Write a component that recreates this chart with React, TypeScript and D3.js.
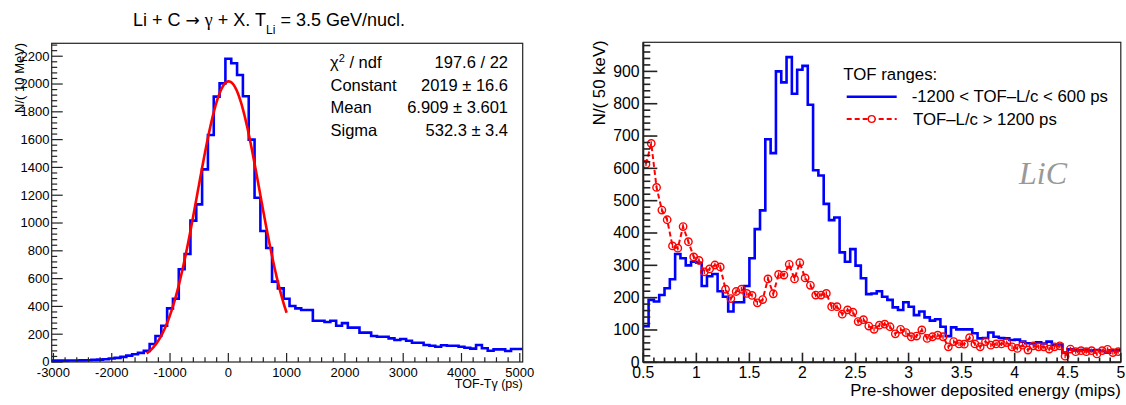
import React from "react";
import * as d3 from "d3";

const W = 1126;
const H = 405;
const SANS = "'Liberation Sans', Arial, Helvetica, sans-serif";
const SERIF = "'Liberation Serif', 'Times New Roman', serif";

// ---------------- Left panel data (TOF - Tgamma, 100 ps bins) ----------------
const tofFirstBinCenter = -3000;
const tofBinWidth = 100;
const tofCounts = [
  10, 10, 10, 11, 11, 12, 13, 15, 17, 20,
  25, 30, 37, 46, 56, 66, 80, 129, 187, 261,
  386, 455, 667, 777, 1017, 1134, 1386, 1633, 1909, 2005,
  2182, 2149, 2065, 1912, 1600, 1182, 942, 820, 578, 530,
  455, 403, 386, 374, 374, 297, 297, 288, 297, 261,
  280, 247, 247, 211, 211, 187, 182, 182, 170, 158,
  165, 153, 139, 139, 122, 117, 110, 120, 117, 117,
  110, 103, 96, 122, 99, 81, 91, 91, 79, 93,
  93,
];
const fitConstant = 2019;
const fitMean = 6.909;
const fitSigma = 532.3;
const fitFrom = -1400;
const fitTo = 1000;
const leftXTicks = [-3000, -2000, -1000, 0, 1000, 2000, 3000, 4000, 5000];
const leftYTicks = [0, 200, 400, 600, 800, 1000, 1200, 1400, 1600, 1800, 2000, 2200];
const statsNames = ["Constant", "Mean", "Sigma"];
const statsValues = ["197.6 / 22", "2019 ± 16.6", "6.909 ± 3.601", "532.3 ± 3.4"];

// ---------------- Right panel data (pre-shower energy, 0.05 mips bins) ----------------
const energyFirstEdge = 0.5;
const energyBinWidth = 0.05;
const blueCounts = [
  112, 193, 188, 208, 229, 257, 335, 322, 300, 311,
  308, 236, 266, 273, 220, 203, 157, 186, 186, 236,
  322, 412, 470, 690, 647, 900, 866, 944, 831, 905,
  917, 797, 594, 578, 490, 440, 448, 340, 311, 350,
  299, 260, 211, 213, 220, 203, 193, 170, 162, 186,
  172, 146, 157, 139, 129, 133, 110, 81, 108, 102,
  102, 102, 90, 74, 75, 92, 79, 75, 74, 69,
  70, 64, 59, 58, 62, 58, 64, 53, 55, 30,
  40, 37, 38, 39, 36, 38, 35, 30, 37, 37,
];
const redCounts = [
  613, 677, 541, 471, 441, 360, 353, 420, 373, 326,
  315, 280, 289, 301, 295, 226, 197, 219, 226, 213,
  207, 184, 194, 258, 212, 272, 270, 303, 258, 308,
  261, 238, 208, 208, 213, 172, 172, 149, 162, 155,
  126, 132, 112, 102, 115, 118, 110, 88, 102, 92,
  79, 81, 100, 74, 79, 84, 79, 48, 64, 57,
  56, 76, 57, 48, 64, 53, 57, 57, 61, 48,
  43, 53, 38, 51, 48, 48, 41, 48, 51, 19,
  41, 33, 36, 33, 36, 26, 36, 40, 30, 33,
];
const rightXTicks = [0.5, 1, 1.5, 2, 2.5, 3, 3.5, 4, 4.5, 5];
const rightXTickLabels = ["0.5", "1", "1.5", "2", "2.5", "3", "3.5", "4", "4.5", "5"];
const rightYTicks = [0, 100, 200, 300, 400, 500, 600, 700, 800, 900];
const legendTitle = "TOF ranges:";
const legendBlue = "-1200 < TOF\u2013L/c < 600 ps";
const legendRed = "TOF\u2013L/c > 1200 ps";

// ---------------- Scales ----------------
const xL = d3.scaleLinear().domain([-3030, 5050]).range([51.7, 522.7]);
const yL = d3.scaleLinear().domain([0, 2293]).range([362, 43.3]);
const xR = d3.scaleLinear().domain([0.5, 5]).range([643.3, 1120.8]);
const yR = d3.scaleLinear().domain([0, 990]).range([362.3, 42.3]);

function stepPath(
  counts: number[],
  firstEdge: number,
  width: number,
  xs: d3.ScaleLinear<number, number>,
  ys: d3.ScaleLinear<number, number>
) {
  const pts: [number, number][] = counts.map((c, i) => [firstEdge + i * width, c]);
  pts.push([firstEdge + counts.length * width, counts[counts.length - 1]]);
  return (
    d3
      .line<[number, number]>()
      .x((d) => xs(d[0]))
      .y((d) => ys(d[1]))
      .curve(d3.curveStepAfter)(pts) || ""
  );
}

function range(a: number, b: number, s: number) {
  return d3.range(a, b + s / 2, s).map((v) => Math.round(v * 1e6) / 1e6);
}

export default function App() {
  // Left
  const leftHist = stepPath(tofCounts, tofFirstBinCenter - tofBinWidth / 2, tofBinWidth, xL, yL);
  const fitXs = d3.range(fitFrom, fitTo + 1, 10);
  const fitPath =
    d3
      .line<number>()
      .x((x) => xL(x))
      .y((x) => yL(fitConstant * Math.exp(-0.5 * ((x - fitMean) / fitSigma) ** 2)))
      .curve(d3.curveLinear)(fitXs) || "";
  const lxMinor = range(-3000, 5000, 200).filter((v) => !leftXTicks.includes(v));
  const lyMinor = range(0, 2280, 40).filter((v) => !leftYTicks.includes(v));

  // Right
  const blueHist = stepPath(blueCounts, energyFirstEdge, energyBinWidth, xR, yR);
  const redPts: [number, number][] = redCounts.map((c, i) => [
    energyFirstEdge + (i + 0.5) * energyBinWidth,
    c,
  ]);
  const redPath =
    d3
      .line<[number, number]>()
      .x((d) => xR(d[0]))
      .y((d) => yR(d[1]))(redPts) || "";
  const rxMinor = range(0.5, 5, 0.1).filter((v) => !rightXTicks.some((t) => Math.abs(t - v) < 1e-6));
  const ryMinor = range(0, 980, 20).filter((v) => !rightYTicks.includes(v));

  const [lx0, lx1] = xL.range();
  const [ly0, ly1] = yL.range();
  const [rx0, rx1] = xR.range();
  const [ry0, ry1] = yR.range();

  const blue = "#0000ff";
  const red = "#ff0000";

  return (
    <svg
      width={W}
      height={H}
      viewBox={`0 0 ${W} ${H}`}
      style={{ position: "absolute", left: 0, top: 0, background: "#fff" }}
      fontFamily={SANS}
    >
      <defs>
        <clipPath id="clipL">
          <rect x={lx0} y={ly1} width={lx1 - lx0} height={ly0 - ly1} />
        </clipPath>
        <clipPath id="clipR">
          <rect x={rx0} y={ry1} width={rx1 - rx0} height={ry0 - ry1} />
        </clipPath>
      </defs>
      <rect x={0} y={0} width={W} height={H} fill="#fff" />

      {/* ===== Title ===== */}
      <text x={269} y={26} fontSize={18} textAnchor="middle" fill="#000">
        Li + C{" "}
        <tspan fontFamily="'DejaVu Sans', sans-serif" fontSize={17}>
          {"\u2192"}
        </tspan>{" "}
        <tspan fontFamily={SERIF}>{"\u03b3"}</tspan> + X. T
        <tspan fontSize={12} dy={8}>
          Li
        </tspan>
        <tspan dy={-8}> = 3.5 GeV/nucl.</tspan>
      </text>

      {/* ===== Left panel ===== */}
      <g clipPath="url(#clipL)">
        <path d={leftHist} fill="none" stroke={blue} strokeWidth={2.6} />
        <path d={fitPath} fill="none" stroke={red} strokeWidth={2.6} />
      </g>
      <rect x={lx0} y={ly1} width={lx1 - lx0} height={ly0 - ly1} fill="none" stroke="#222" strokeWidth={1.2} />
      {/* left x ticks */}
      {leftXTicks.map((t) => (
        <line key={"lxt" + t} x1={xL(t)} x2={xL(t)} y1={ly0} y2={ly0 - 9} stroke="#222" strokeWidth={1.2} />
      ))}
      {lxMinor.map((t) => (
        <line key={"lxm" + t} x1={xL(t)} x2={xL(t)} y1={ly0} y2={ly0 - 4.7} stroke="#222" strokeWidth={1.2} />
      ))}
      {leftXTicks.map((t) => (
        <text key={"lxl" + t} x={xL(t)} y={376.5} fontSize={13} textAnchor="middle" fill="#000">
          {t}
        </text>
      ))}
      {/* left y ticks */}
      {leftYTicks.map((t) => (
        <line key={"lyt" + t} x1={lx0} x2={lx0 + 11} y1={yL(t)} y2={yL(t)} stroke="#222" strokeWidth={1.2} />
      ))}
      {lyMinor.map((t) => (
        <line key={"lym" + t} x1={lx0} x2={lx0 + 5.5} y1={yL(t)} y2={yL(t)} stroke="#222" strokeWidth={1.2} />
      ))}
      {leftYTicks.map((t) => (
        <text key={"lyl" + t} x={49.5} y={yL(t) + 4.3} fontSize={13} textAnchor="end" fill="#000">
          {t}
        </text>
      ))}
      <text x={lx1} y={388} fontSize={12.5} textAnchor="end" fill="#000">
        TOF-T{"\u03b3"} (ps)
      </text>
      <text
        transform={`translate(24,${ly1 - 0.5}) rotate(-90)`}
        fontSize={13}
        textAnchor="end"
        fill="#000"
      >
        N/( 10 MeV)
      </text>
      {/* stats */}
      <text x={330} y={68} fontSize={16.5} fill="#000">
        {"\u03c7"}
        <tspan fontSize={11} dy={-6}>
          2
        </tspan>
        <tspan dy={6}> / ndf</tspan>
      </text>
      {statsNames.map((s, i) => (
        <text key={"sn" + s} x={330.5} y={90.7 + i * 22.4} fontSize={16.5} fill="#000">
          {s}
        </text>
      ))}
      {statsValues.map((s, i) => (
        <text key={"sv" + i} x={508} y={68 + i * 22.5} fontSize={16.5} textAnchor="end" fill="#000">
          {s}
        </text>
      ))}

      {/* ===== Right panel ===== */}
      <g clipPath="url(#clipR)">
        <path d={blueHist} fill="none" stroke={blue} strokeWidth={2.6} />
        <path d={redPath} fill="none" stroke={red} strokeWidth={2} strokeDasharray="5,3" />
        {redPts.map((d, i) => (
          <g key={"rp" + i}>
            <line x1={xR(d[0])} x2={xR(d[0])} y1={yR(d[1]) - 2.2} y2={yR(d[1]) + 2.2} stroke={red} strokeWidth={1.3} />
            <circle cx={xR(d[0])} cy={yR(d[1])} r={3.7} fill="none" stroke={red} strokeWidth={1.4} />
          </g>
        ))}
      </g>
      <rect x={rx0} y={ry1} width={rx1 - rx0} height={ry0 - ry1} fill="none" stroke="#222" strokeWidth={1.2} />
      <line x1={rx0} x2={rx1} y1={ry0} y2={ry0} stroke="#222" strokeWidth={2} />
      <line x1={rx0} x2={rx0} y1={ry0} y2={ry1} stroke="#222" strokeWidth={2} />
      {rightXTicks.map((t) => (
        <line key={"rxt" + t} x1={xR(t)} x2={xR(t)} y1={ry0} y2={ry0 - 9.6} stroke="#222" strokeWidth={1.6} />
      ))}
      {rxMinor.map((t) => (
        <line key={"rxm" + t} x1={xR(t)} x2={xR(t)} y1={ry0} y2={ry0 - 4.8} stroke="#222" strokeWidth={1.6} />
      ))}
      {rightXTicks.map((t, i) => (
        <text key={"rxl" + t} x={xR(t)} y={378} fontSize={15.8} textAnchor="middle" fill="#000">
          {rightXTickLabels[i]}
        </text>
      ))}
      {rightYTicks.map((t) => (
        <line key={"ryt" + t} x1={rx0} x2={rx0 + 14} y1={yR(t)} y2={yR(t)} stroke="#222" strokeWidth={1.6} />
      ))}
      {ryMinor.map((t) => (
        <line key={"rym" + t} x1={rx0} x2={rx0 + 7} y1={yR(t)} y2={yR(t)} stroke="#222" strokeWidth={1.6} />
      ))}
      {rightYTicks.map((t) => (
        <text key={"ryl" + t} x={639.5} y={yR(t) + 5.2} fontSize={15.8} textAnchor="end" fill="#000">
          {t}
        </text>
      ))}
      <text x={rx1} y={396} fontSize={16.8} textAnchor="end" fill="#000">
        Pre-shower deposited energy (mips)
      </text>
      <text
        transform={`translate(604.5,${ry1 - 2}) rotate(-90)`}
        fontSize={16.8}
        textAnchor="end"
        fill="#000"
      >
        N/( 50 keV)
      </text>
      {/* legend */}
      <text x={843.3} y={80} fontSize={16.8} fill="#000">
        {legendTitle}
      </text>
      <line x1={846.7} x2={896.7} y1={96.7} y2={96.7} stroke={blue} strokeWidth={2.6} />
      <text x={911.7} y={102} fontSize={16.8} fill="#000">
        {legendBlue}
      </text>
      <line x1={846.7} x2={896.7} y1={119} y2={119} stroke={red} strokeWidth={2} strokeDasharray="5,3" />
      <circle cx={871.7} cy={119} r={3.4} fill="#fff" stroke={red} strokeWidth={1.4} />
      <text x={913} y={124.5} fontSize={16.8} fill="#000">
        {legendRed}
      </text>
      <text x={1019} y={184} fontSize={32} fontStyle="italic" fontFamily={SERIF} fill="#999999">
        LiC
      </text>
    </svg>
  );
}
